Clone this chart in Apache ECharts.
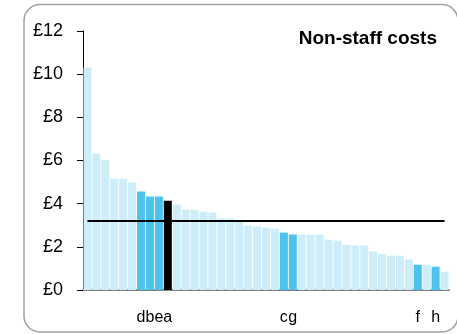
<!DOCTYPE html>
<html>
<head>
<meta charset="utf-8">
<script src="https://cdn.jsdelivr.net/npm/echarts@6/dist/echarts.min.js"></script>
<style>
  html, body { margin: 0; padding: 0; background: #fff; }
  #main { width: 457px; height: 334px; }
</style>
</head>
<body>
<div id="main"></div>
<script>
// category labels (only a few bars are named)
var labels = ['', '', '', '', '', '', 'd', 'b', 'e', 'a',
  '', '', '', '', '', '', '', '', '', '', '', '', 'c', 'g',
  '', '', '', '', '', '', '', '', '', '', '', '', '', 'f', '', 'h', ''];
// non-staff cost per unit, sorted high to low
var costs = [10.31, 6.32, 6.04, 5.16, 5.16, 4.98, 4.56, 4.33, 4.33, 4.14,
  3.96, 3.72, 3.72, 3.63, 3.59, 3.31, 3.31, 3.17, 2.98, 2.94,
  2.89, 2.84, 2.66, 2.57, 2.57, 2.57, 2.57, 2.33, 2.29, 2.10,
  2.06, 2.06, 1.78, 1.68, 1.59, 1.59, 1.41, 1.17, 1.17, 1.08, 0.85];
var average = 3.21;
var yTicks = [0, 2, 4, 6, 8, 10, 12];

var chart = echarts.init(document.getElementById('main'));

var barData = costs.map(function (v, i) {
  var color = '#cdedf9';
  if (labels[i] === 'a') color = '#000000';
  else if (labels[i] !== '') color = '#4bc3ec';
  return { value: v, itemStyle: { color: color } };
});

chart.setOption({
  animation: false,
  textStyle: { fontFamily: 'Liberation Sans, Arial, sans-serif' },
  graphic: [{
    type: 'rect',
    shape: { x: 24, y: 4.5, width: 434, height: 327.5, r: 16 },
    style: { fill: 'none', stroke: '#a0a0a0', lineWidth: 1.5 },
    z: -1
  }],
  title: {
    text: 'Non-staff costs',
    right: 20,
    top: 29,
    padding: 0,
    textStyle: { fontSize: 19, fontWeight: 'bold', color: '#000', fontFamily: 'Liberation Sans, Arial, sans-serif' }
  },
  grid: { left: 83, right: 8, top: 31, bottom: 44 },
  xAxis: {
    type: 'category',
    data: labels,
    axisLine: { lineStyle: { color: '#808080', width: 2 } },
    axisTick: { show: false },
    axisLabel: { interval: 0, color: '#000', fontSize: 16, margin: 20 }
  },
  yAxis: {
    type: 'value',
    min: yTicks[0],
    max: yTicks[yTicks.length - 1],
    interval: 2,
    splitLine: { show: false },
    axisLine: { show: true, lineStyle: { color: '#000', width: 1 } },
    axisTick: { show: true, length: 6, lineStyle: { color: '#000' } },
    axisLabel: { color: '#000', fontSize: 18, margin: 20, formatter: '£{value}' }
  },
  series: [{
    type: 'bar',
    data: barData,
    barCategoryGap: '10%',
    markLine: {
      symbol: 'none',
      silent: true,
      label: { show: false },
      lineStyle: { color: '#000', width: 2, type: 'solid' },
      data: [[{ xAxis: 0, yAxis: average }, { xAxis: costs.length - 1, yAxis: average }]]
    }
  }]
});
</script>
</body>
</html>
